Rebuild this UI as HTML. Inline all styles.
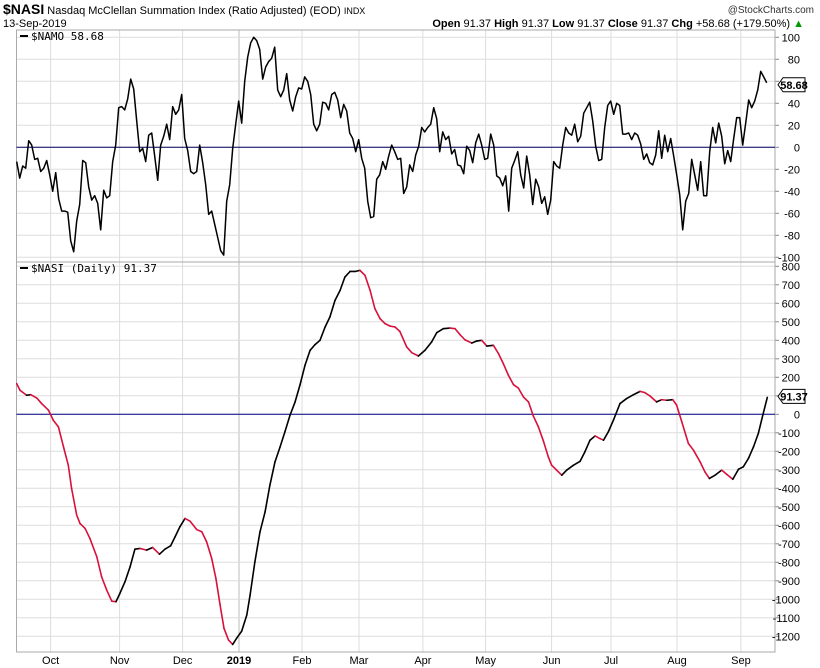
<!DOCTYPE html>
<html><head><meta charset="utf-8"><style>
body{margin:0;background:#fff;width:820px;height:668px;overflow:hidden;font-family:"Liberation Sans",Arial,sans-serif}
svg{display:block}
</style></head><body>
<svg id="chart" width="820" height="668" xmlns="http://www.w3.org/2000/svg" font-family="Liberation Sans, Arial, sans-serif">
<text x="3" y="14" font-size="11"><tspan font-weight="bold" font-size="14">$NASI</tspan> Nasdaq McClellan Summation Index (Ratio Adjusted) (EOD) <tspan font-size="9">INDX</tspan></text>
<text x="814" y="13" font-size="10" text-anchor="end" fill="#333">@StockCharts.com</text>
<text x="3" y="27" font-size="11">13-Sep-2019</text>
<text x="804" y="27" font-size="11" text-anchor="end"><tspan font-weight="bold">Open</tspan> 91.37 <tspan font-weight="bold">High</tspan> 91.37 <tspan font-weight="bold">Low</tspan> 91.37 <tspan font-weight="bold">Close</tspan> 91.37 <tspan font-weight="bold">Chg</tspan> +58.68 (+179.50%) <tspan fill="#090">▲</tspan></text>
<g id="grid"></g>
<g id="marks"></g>
<g id="labels"></g>
</svg>
<script>
const namoValues=[-13,-28,-17,-19,6,2,-11,-10,-22,-19,-12,-25,-40,-23,-47,-58,-58,-59,-85,-95,-67,-52,-12,-14,-36,-48,-44,-51,-75,-39,-46,-44,-13,2,36,37,34,44,62,53,24,-4,-1,-13,11,13,-8,-30,2,10,21,7,37,30,34,48,8,-3,-22,-24,-22,2,-14,-34,-61,-58,-70,-82,-94,-98,-49,-34,-1,21,42,22,60,82,95,100,97,89,62,73,78,81,91,52,46,52,67,43,33,46,54,53,64,60,48,21,15,21,41,40,34,48,50,43,27,39,33,13,8,-4,7,-10,-19,-49,-64,-63,-29,-25,-13,-20,
-8,2,-4,-11,-10,-42,-36,-16,-22,-7,1,18,14,18,21,36,26,-4,14,7,10,-6,-2,-16,-17,-24,1,-3,-14,4,12,2,-11,-10,12,2,-26,-28,-35,-26,-58,-19,-12,-4,-25,-37,-8,-25,-52,-29,-36,-51,-45,-61,-48,-13,-17,-19,2,18,13,11,21,5,10,31,36,41,24,1,-12,-11,18,38,42,30,40,38,12,12,13,7,13,11,3,-11,-6,-14,-16,-7,15,-10,11,-4,8,-8,-25,-43,-75,-49,-42,-11,-25,-39,-13,-44,-44,-4,18,4,22,10,-15,-3,-13,8,27,27,2,22,43,36,42,52,69,64,58.68];
const nasiDays=[0,1.1,3.3,4.7,6.7,8.3,10.6,12.2,13.9,15.6,17.2,18.3,20,21.1,22.8,24.4,26.7,28.3,30,31.7,33.1,34.4,36.1,37.8,39.4,41.1,43.3,45.3,47.6,49.4,51.3,52.8,54.4,56.1,57.8,60,61.7,63.3,65,66.4,67.8,69.1,70.6,72,73.3,75,76.7,77.8,79.4,81.1,82.8,84.4,86.1,87.8,89.4,91.1,92.8,94.4,96.1,97.8,99.4,101.1,102.8,104.4,106.1,107.8,109.4,111.1,112.8,114.4,116.1,117.8,119.4,121.1,122.8,124.4,126.1,127.6,
127.8,130,131.7,133.9,136.1,138.3,140,142.2,144.4,146.1,147.8,149.4,151.7,153.3,155,156.7,158.9,160.6,162.2,163.9,165.6,167.2,168.9,170.6,172.2,173.9,175.6,177.2,178.3,180,181.7,183.3,185.6,187.8,189.4,191.1,192.8,194.4,195.6,197.2,198.9,201.1,203.3,205.6,207.8,209.4,211.1,213.3,215,216.7,218.7,220,221.7,223.9,225.6,227.8,229.4,230.9,232.8,235,236.7,238.7,240.6,242.2,243.9,245.6,247.2,248.7,250.2];
const nasiValues=[166,130,103,106,88,58,22,-32,-68,-176,-275,-401,-545,-590,-617,-671,-770,-878,-950,-1010,-1013,-968,-905,-824,-729,-725,-734,-720,-756,-729,-711,-662,-608,-563,-578,-623,-635,-689,-779,-887,-1031,-1157,-1220,-1244,-1211,-1172,-1085,-977,-797,-635,-527,-383,-257,-176,-95,-5,67,157,265,346,376,400,472,526,616,670,742,772,772,778,751,670,571,517,490,477,472,450,
445,364,333,315,346,391,441,463,466,463,430,403,385,396,400,369,373,328,274,211,160,142,94,67,-9,-68,-146,-230,-275,-302,-329,-302,-275,-254,-203,-140,-117,-131,-140,-95,-32,58,85,106,124,117,99,67,79,76,79,49,-41,-158,-194,-257,-311,-347,-329,-302,-325,-351,-297,-284,-239,-176,-104,-5,91.37];
const namoTicks=[100,80,60,40,20,0,-20,-40,-60,-80,-100];
const nasiTicks=[800,700,600,500,400,300,200,100,0,-100,-200,-300,-400,-500,-600,-700,-800,-900,-1000,-1100,-1200];
const monthLabels=["Oct","Nov","Dec","2019","Feb","Mar","Apr","May","Jun","Jul","Aug","Sep"];
const monthDays=[11.3,34.3,55.3,74.1,95.1,114.1,135.4,156.3,178.3,198.1,220.1,241.4];

const NS="http://www.w3.org/2000/svg";
const L=16.5,R=775,X0=16.7,DX=3;
const P1={y0:147.3,k:1.1};
const P2={y0:414.3,k:0.185};
const xDay=d=>X0+d*DX;
const y1=v=>P1.y0-v*P1.k;
const y2=v=>P2.y0-v*P2.k;
function mk(tag,attrs,parent){const e=document.createElementNS(NS,tag);for(const k in attrs)e.setAttribute(k,attrs[k]);parent.appendChild(e);return e;}
const grid=document.getElementById('grid'),marks=document.getElementById('marks'),labels=document.getElementById('labels');

monthDays.forEach((d,i)=>{
  const x=xDay(d);
  const gl=mk('line',{x1:x,x2:x,y1:30,y2:652,stroke:i==3?'#bbb':'#ddd','stroke-width':1},grid);
  
  
  const t=mk('text',{x:x,y:664,'font-size':11,'text-anchor':'middle','font-weight':i==3?'bold':'normal'},labels);
  t.textContent=monthLabels[i];
  
  
});
namoTicks.forEach(v=>{
  const y=y1(v);
  const gl=mk('line',{x1:L,x2:R,y1:y,y2:y,stroke:'#ddd'},grid);
  
  
  mk('line',{x1:R,x2:R+4,y1:y,y2:y,stroke:'#888'},grid);
  const t=mk('text',{x:800,y:y+4,'font-size':11,'text-anchor':'end'},labels);
  t.textContent=v;
  
  
});
nasiTicks.forEach(v=>{
  const y=y2(v);
  const gl=mk('line',{x1:L,x2:R,y1:y,y2:y,stroke:'#ddd'},grid);
  
  
  mk('line',{x1:R,x2:R+4,y1:y,y2:y,stroke:'#888'},grid);
  const t=mk('text',{x:800,y:y+4,'font-size':11,'text-anchor':'end'},labels);
  t.textContent=v;
  
  
});
const b1=mk('rect',{x:L,y:30,width:R-L,height:232,fill:'none',stroke:'#aaa'},grid);


const b2=mk('rect',{x:L,y:262,width:R-L,height:390,fill:'none',stroke:'#aaa'},grid);


const z1=mk('line',{x1:L,x2:R,y1:y1(0),y2:y1(0),stroke:'#000060',"stroke-width":1},marks);


const z2=mk('line',{x1:L,x2:R,y1:y2(0),y2:y2(0),stroke:'#000080',"stroke-width":1},marks);



const nStep=250/(namoValues.length-1);
const namoPts=namoValues.map((v,i)=>xDay(i*nStep).toFixed(1)+','+y1(v).toFixed(1)).join(' ');
const nl=mk('polyline',{points:namoPts,fill:'none',stroke:'#000','stroke-width':1.5,'stroke-linejoin':'round'},marks);



const nN=Math.min(nasiDays.length,nasiValues.length);
for(let i=1;i<nN;i++){
  const up=nasiValues[i]>=nasiValues[i-1];
  const s=mk('line',{x1:xDay(nasiDays[i-1]),y1:y2(nasiValues[i-1]),x2:xDay(nasiDays[i]),y2:y2(nasiValues[i]),stroke:up?'#000':'#d8103c','stroke-width':1.6,'stroke-linecap':'round'},marks);
  
  
}

function legend(y,txt,name){
  mk('line',{x1:20,x2:28,y1:y-4,y2:y-4,stroke:'#000','stroke-width':2},labels);
  const t=mk('text',{x:31,y:y,'font-size':11,'font-family':'DejaVu Sans Mono, monospace'},labels);
  t.textContent=txt;
  
  
}
legend(40,'$NAMO '+namoValues[namoValues.length-1].toFixed(2),'namo-legend');
legend(272,'$NASI (Daily) '+nasiValues[nN-1].toFixed(2),'nasi-legend');

function tag(y,txt,name){
  const g=mk('g',{},labels);
  
  
  mk('path',{d:`M${R+3},${y} L${R+8},${y-7} H${R+30} V${y+7} H${R+8} Z`,fill:'#fff',stroke:'#000'},g);
  const t=mk('text',{x:R+19,y:y+4,'font-size':11,'font-weight':'bold','text-anchor':'middle'},g);
  t.textContent=txt;
}
tag(y1(namoValues[namoValues.length-1])+2,namoValues[namoValues.length-1].toFixed(2),'namo-value-tag');
tag(y2(nasiValues[nN-1])-1,nasiValues[nN-1].toFixed(2),'nasi-value-tag');
</script>
</body></html>
